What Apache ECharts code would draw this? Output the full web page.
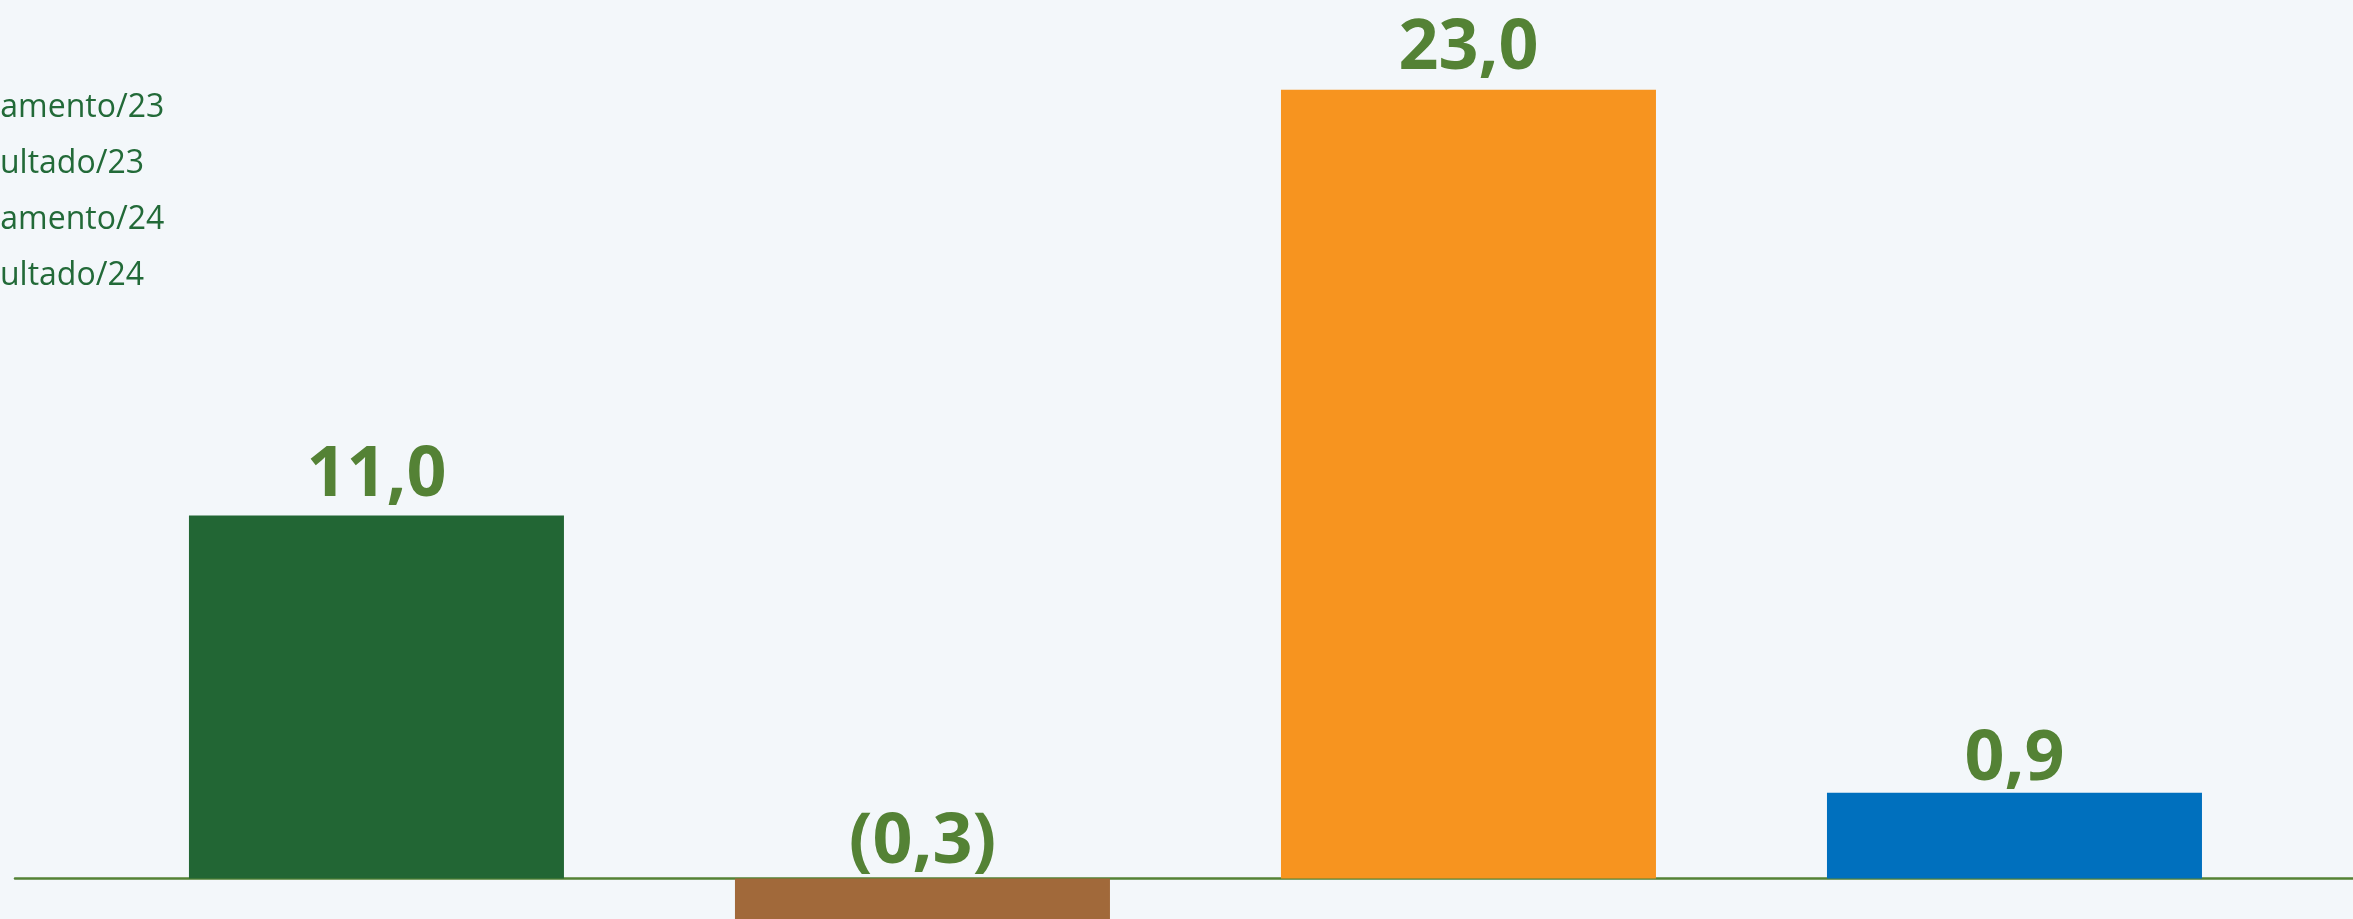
<!DOCTYPE html>
<html>
<head>
<meta charset="utf-8">
<script src="https://cdn.jsdelivr.net/npm/echarts@6/dist/echarts.min.js"></script>
<style>
    html, body { margin: 0; padding: 0; background: #f3f7fa; }
    #chart { width: 2353px; height: 919px; }
</style>
</head>
<body>
<div id="chart"></div>
<script>
// Data
const seriesNames = ['Orçamento/23', 'Resultado/23', 'Orçamento/24', 'Resultado/24'];
const labelValues = ['11,0', '(0,3)', '23,0', '0,9'];
// bar heights as drawn in the picture (bars are not to scale for the small values)
const barValues = [11.0, -2.6, 23.9, 2.6];
const barColors = ['#226634', '#a1693a', '#f7941f', '#0070be'];
const labelDistance = [4, 0, 6, -2];

const chart = echarts.init(document.getElementById('chart'));

// --- SERIES ---
const series = seriesNames.map((name, i) => ({
    name,
    type: 'bar',
    stack: 'all',
    barWidth: 375,
    itemStyle: { color: barColors[i] },
    label: {
        show: true,
        position: 'top',
        distance: labelDistance[i],
        formatter: () => labelValues[i],
        color: '#548235',
        fontFamily: 'Open Sans',
        fontWeight: 'bold',
        fontSize: 70
    },
    data: barValues.map((v, j) => [j, j === i ? v : '-'])
}));

chart.setOption({
    backgroundColor: '#f3f7fa',
    animation: false,
    legend: {
        orient: 'vertical',
        left: -83,
        top: 92,
        padding: 0,
        itemWidth: 25,
        itemHeight: 14,
        itemGap: 24,
        icon: 'rect',
        textStyle: { color: '#226a38', fontFamily: 'Open Sans', fontSize: 32 },
        data: seriesNames
    },
    grid: { left: 15, right: 0, top: 0, bottom: 0 },
    xAxis: {
        type: 'value',
        min: -0.662,
        max: 3.62,
        axisLine: { onZero: true, lineStyle: { color: '#548235', width: 2.5 } },
        axisTick: { show: false },
        axisLabel: { show: false },
        splitLine: { show: false }
    },
    yAxis: {
        type: 'value',
        min: -1.227,
        max: 26.62,
        axisLine: { show: false },
        axisTick: { show: false },
        axisLabel: { show: false },
        splitLine: { show: false }
    },
    series
});
</script>
</body>
</html>
